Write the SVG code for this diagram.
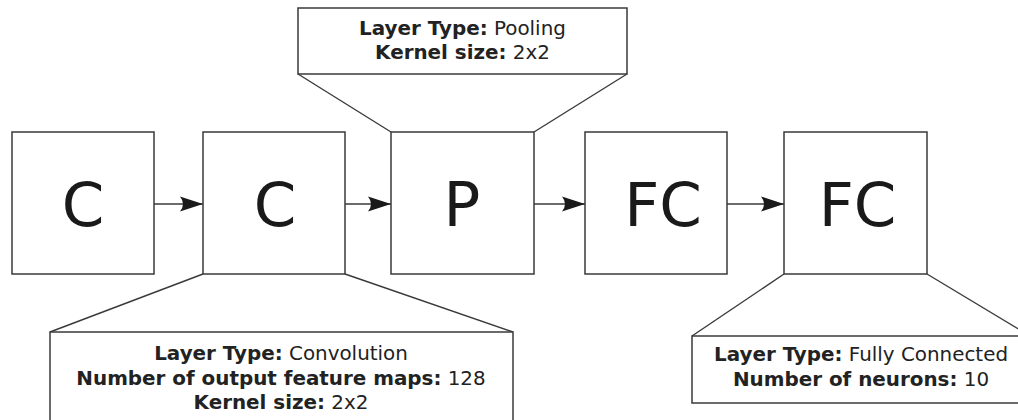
<svg xmlns="http://www.w3.org/2000/svg" width="1018" height="420" viewBox="0 0 1018 420">
<style>
.box{fill:#fff;stroke:#3a3a3a;stroke-width:1.5}
.cl{fill:#fff;stroke:#3a3a3a;stroke-width:1.5}
.ln{fill:none;stroke:#3a3a3a;stroke-width:1.4}
.big{font-family:"DejaVu Sans",sans-serif;font-size:61px;fill:#1a1a1a;text-anchor:middle}
.lbl{font-family:"DejaVu Sans",sans-serif;font-size:19.9px;fill:#222;text-anchor:middle}
.b{font-weight:bold}
</style>
<defs>
<marker id="ah" markerUnits="userSpaceOnUse" viewBox="-24 -9 26 18" refX="0" refY="0" markerWidth="26" markerHeight="18" orient="auto" overflow="visible">
<path d="M0,0 L-23,-7.5 Q-17,0 -23,7.5 Z" fill="#1a1a1a"/>
</marker>
</defs>
<g id="connectors">
<line class="ln" x1="154" y1="204" x2="203" y2="204" marker-end="url(#ah)"/>
<line class="ln" x1="345" y1="204" x2="391" y2="204" marker-end="url(#ah)"/>
<line class="ln" x1="534" y1="204" x2="585" y2="204" marker-end="url(#ah)"/>
<line class="ln" x1="727" y1="204" x2="784" y2="204" marker-end="url(#ah)"/>
</g>
<g id="callout-pool">
<polyline class="ln" points="298,74 391,132"/>
<polyline class="ln" points="627,74 534,132"/>
<rect class="cl" x="298" y="8" width="329" height="66"/>
<text class="lbl" x="462.5" y="34.5"><tspan class="b">Layer Type:</tspan> Pooling</text>
<text class="lbl" x="462.5" y="59"><tspan class="b">Kernel size:</tspan> 2x2</text>
</g>
<g id="callout-conv">
<polyline class="ln" points="203,274 50,332"/>
<polyline class="ln" points="345,274 513,332"/>
<rect class="cl" x="50" y="332" width="463" height="100"/>
<text class="lbl" x="281" y="360"><tspan class="b">Layer Type:</tspan> Convolution</text>
<text class="lbl" x="281" y="384.5"><tspan class="b">Number of output feature maps:</tspan> 128</text>
<text class="lbl" x="281" y="409"><tspan class="b">Kernel size:</tspan> 2x2</text>
</g>
<g id="callout-fc">
<polyline class="ln" points="784,274 692,336"/>
<polyline class="ln" points="927,274 1030,336"/>
<rect class="cl" x="692" y="336" width="338" height="67"/>
<text class="lbl" x="861" y="361"><tspan class="b">Layer Type:</tspan> Fully Connected</text>
<text class="lbl" x="861" y="386"><tspan class="b">Number of neurons:</tspan> 10</text>
</g>
<g id="node-c1">
<rect class="box" x="12" y="132" width="142" height="142"/>
<text class="big" x="83" y="226">C</text>
</g>
<g id="node-c2">
<rect class="box" x="203" y="132" width="142" height="142"/>
<text class="big" x="275" y="226">C</text>
</g>
<g id="node-p">
<rect class="box" x="391" y="132" width="143" height="142"/>
<text class="big" x="462" y="226">P</text>
</g>
<g id="node-fc1">
<rect class="box" x="585" y="132" width="142" height="142"/>
<text class="big" x="663" y="226">FC</text>
</g>
<g id="node-fc2">
<rect class="box" x="784" y="132" width="143" height="142"/>
<text class="big" x="857.5" y="226">FC</text>
</g>
</svg>
